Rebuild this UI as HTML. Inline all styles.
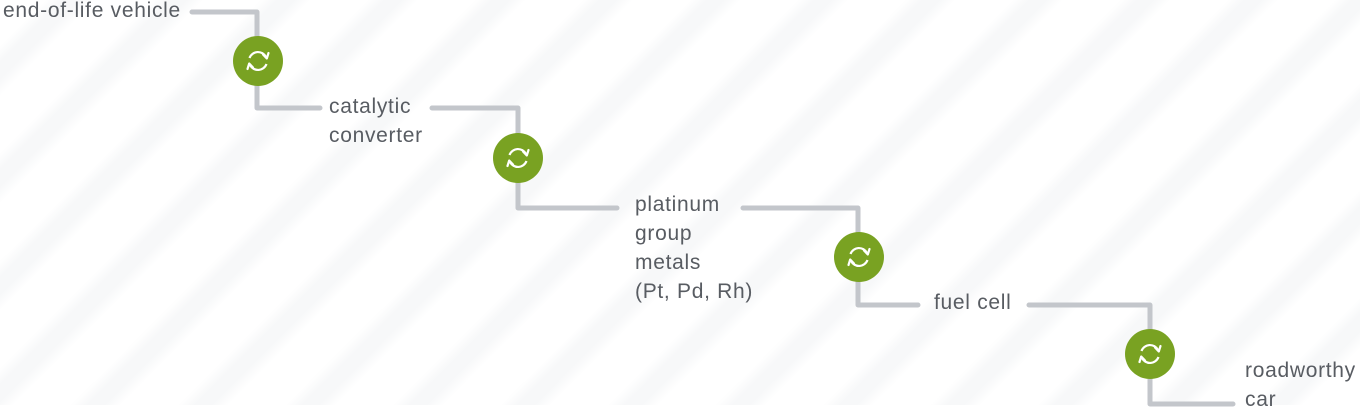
<!DOCTYPE html>
<html><head><meta charset="utf-8"><style>
html,body{margin:0;padding:0;background:#fff;}
body{width:1360px;height:410px;overflow:hidden;position:relative;font-family:"Liberation Sans",sans-serif;}
.bg{position:absolute;left:0;top:0;width:1360px;height:405px;
background:repeating-linear-gradient(-45deg,#ffffff 0px,#ffffff 40px,#f7f8f9 52px,#f7f8f9 64px,#ffffff 76px);}
.t{position:absolute;font-size:21px;letter-spacing:0.7px;color:#585c62;line-height:28.5px;white-space:nowrap;}
svg{position:absolute;left:0;top:0;}
</style></head><body>
<div class="bg"></div>
<svg width="1360" height="410" viewBox="0 0 1360 410">
<defs>
<g id="ic">
<circle r="25" fill="#79a222"/>
<path d="M-8.5,-3 A9,9 0 0 1 8,-4" fill="none" stroke="#fff" stroke-width="2.2"/>
<path d="M5,-6.5 L8.8,-2.5 L10.5,-8" fill="none" stroke="#fff" stroke-width="2.2" stroke-linejoin="round" stroke-linecap="round"/>
<path d="M8.5,3 A9,9 0 0 1 -8,4" fill="none" stroke="#fff" stroke-width="2.2"/>
<path d="M-5,6.5 L-8.8,2.5 L-10.5,8" fill="none" stroke="#fff" stroke-width="2.2" stroke-linejoin="round" stroke-linecap="round"/>
</g>
</defs>
<g fill="none" stroke="#c3c6cb" stroke-width="5" stroke-linecap="round" stroke-linejoin="round">
<path d="M192,12 H257 V108 H320"/>
<path d="M432,108 H518 V208 H617"/>
<path d="M743,208 H858 V305 H918"/>
<path d="M1029,305 H1150 V404 H1233"/>
</g>
<use href="#ic" x="258" y="61"/>
<use href="#ic" x="518" y="158"/>
<use href="#ic" x="859" y="257"/>
<use href="#ic" x="1150" y="354"/>
</svg>
<div class="t" style="left:3px;top:-3px;">end-of-life vehicle</div>
<div class="t" style="left:329px;top:93px;">catalytic<br>converter</div>
<div class="t" style="left:635px;top:190px;line-height:29px;">platinum<br>group<br>metals<br>(Pt, Pd, Rh)</div>
<div class="t" style="left:934px;top:289px;">fuel cell</div>
<div class="t" style="left:1245px;top:357px;">roadworthy<br>car</div>
</body></html>
